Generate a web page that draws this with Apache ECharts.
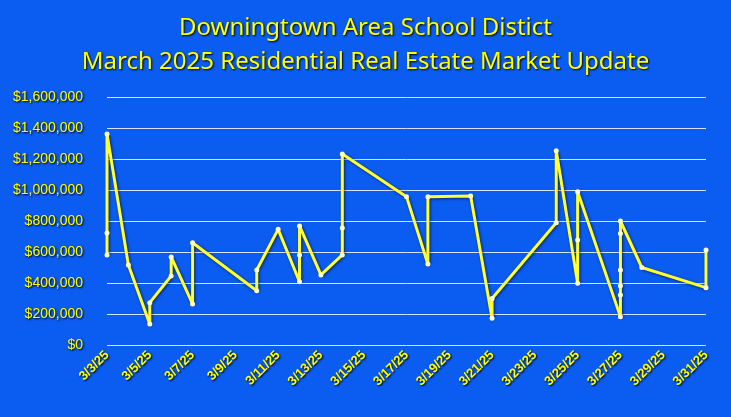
<!DOCTYPE html><html><head><meta charset="utf-8"><script src="https://cdn.jsdelivr.net/npm/echarts@6/dist/echarts.min.js"></script>
<style>html,body{margin:0;padding:0;background:#0b5cf0}#c{width:731px;height:417px}</style></head><body><div id="c"></div><script>
const days=[3,3,3,4,5,5,6,6,7,7,10,10,11,12,12,12,13,14,14,14,17,18,18,20,21,21,24,24,25,25,25,27,27,27,27,27,27,28,31,31];
const prices=[581000,723000,1361000,516000,135000,273000,445000,568000,265000,660000,350000,484000,746000,408000,581000,768000,452000,581000,755000,1232000,957000,523000,957000,961000,172000,300000,789000,1254000,398000,677000,989000,183000,323000,383000,484000,720000,800000,500000,370000,613000];
const titleLines=["Downingtown Area School Distict","March 2025 Residential Real Estate Market Update"];
const data=days.map((d,i)=>[d-3,prices[i]]);
const sh={textShadowColor:'#000',textShadowBlur:2,textShadowOffsetX:1,textShadowOffsetY:1};
const c=echarts.init(document.getElementById('c'));
c.setOption({backgroundColor:'#0b5cf0',animation:false,
title:{text:titleLines.join('\n'),left:'center',top:6,textStyle:Object.assign({color:'#ffff00',fontSize:24,fontWeight:'normal',fontFamily:'Noto Sans',lineHeight:34},sh)},
grid:{left:107,right:25,top:97,bottom:72},
xAxis:{type:'value',min:0,max:28,interval:2,splitLine:{show:false},axisLine:{show:false},axisTick:{show:false},
 axisLabel:Object.assign({color:'#ffff00',fontSize:13,fontWeight:'bold',rotate:45,margin:8,formatter:v=>'3/'+(v+3)+'/25'},sh)},
yAxis:{type:'value',min:0,max:1600000,interval:200000,axisLine:{show:false},axisTick:{show:false},
 splitLine:{lineStyle:{color:'#d8e4ff',width:1}},
 axisLabel:Object.assign({color:'#ffff00',fontSize:14,margin:24,formatter:v=>'$'+v.toLocaleString('en-US')},sh)},
series:[{type:'line',data:data,symbol:'circle',symbolSize:5,itemStyle:{color:'#ffffcc'},
 lineStyle:{color:'#ffff33',width:3,shadowColor:'rgba(0,0,0,0.6)',shadowBlur:3,shadowOffsetX:1,shadowOffsetY:1}}]});
</script></body></html>
